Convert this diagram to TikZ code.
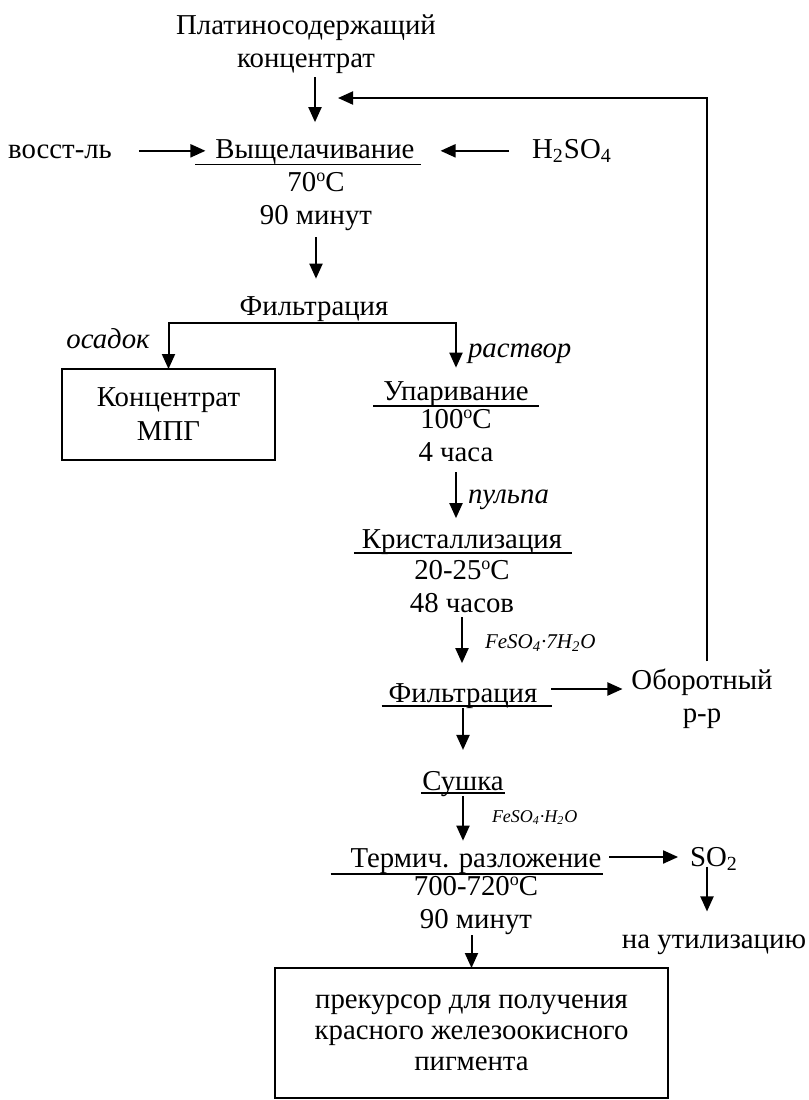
\documentclass[tikz,border=0pt]{standalone}
\usepackage{fontspec}
\setmainfont{Liberation Serif}
\usetikzlibrary{arrows.meta,positioning}
% underline below a stage name: node, left, right, drop
\newcommand{\undl}[4]{\draw[uline] ([shift={(-#2,-#4)}]#1.base west) -- ([shift={(#3,-#4)}]#1.base east);}
\newcommand{\degr}{\raisebox{0.7ex}{\fontsize{9pt}{9pt}\selectfont o}}

\begin{document}
\begin{tikzpicture}[x=0.5pt,y=-0.5pt,
    font=\fontsize{14.4pt}{16.5pt}\selectfont,
    every node/.style={inner sep=0pt,outer sep=0pt,align=center},
    arr/.style={-{Triangle[length=7.5pt,width=6.5pt]},line width=1pt},
    uline/.style={line width=0.9pt},
    lbl/.style={font=\fontsize{14.4pt}{16.5pt}\selectfont\itshape},
    frm/.style={font=\fontsize{10.5pt}{12pt}\selectfont\itshape},
    box/.style={draw,line width=1pt}]
  \useasboundingbox (0,0) rectangle (809,1100);
  % stages (multi-line nodes sit on their last line)
  \node[anchor=base] (src) at (306,67) {Платиносодержащий\\концентрат};
  \node[anchor=base] (reag) at (60,158) {восст-ль};
  \node[anchor=base] (leach) at (315,158) {Выщелачивание};
  \node[anchor=base] (acid) at (572,158) {H\textsubscript{2}SO\textsubscript{4}};
  \node[anchor=base] (c1) at (316,224) {70\degr C\\90 минут};
  \node[anchor=base] (filt) at (314,315) {Фильтрация};
  \node[lbl,anchor=base] (sed) at (108,348) {осадок};
  \node[lbl,anchor=base west] (sol) at (468,357) {раствор};
  \node[box,minimum width=106.5pt,minimum height=45.5pt,
    font=\fontsize{14.4pt}{17pt}\selectfont] (pgm) at (168.5,414.5) {Концентрат\\МПГ};
  \node[anchor=base] (evap) at (456,400) {Упаривание};
  \node[anchor=base] (c2) at (456,461) {100\degr C\\4 часа};
  \node[lbl,anchor=base west] (pulp) at (468,503) {пульпа};
  \node[anchor=base] (cryst) at (462,548) {Кристаллизация};
  \node[anchor=base] (c3) at (462,612) {20-25\degr C\\48 часов};
  \node[frm,anchor=base west] (hept) at (485,648) {FeSO\textsubscript{4}·7H\textsubscript{2}O};
  \node[anchor=base] (filt2) at (463,702) {Фильтрация};
  \node[anchor=base] (rec) at (702,722) {Оборотный\\р-р};
  \node[anchor=base] (dry) at (463,790) {Сушка};
  \node[frm,font=\fontsize{9pt}{11pt}\selectfont\itshape,anchor=base west] (mono) at (492,822) {FeSO\textsubscript{4}·H\textsubscript{2}O};
  \node[anchor=base] (term) at (476,867) {Термич. разложение};
  \node[anchor=base] (so2) at (714,866) {SO\textsubscript{2}};
  \node[anchor=base] (c4) at (476,928) {700-720\degr C\\90 минут};
  \node[anchor=base] (util) at (714,948) {на утилизацию};
  \node[box,minimum width=196.5pt,minimum height=65pt,
    font=\fontsize{14.4pt}{15.5pt}\selectfont] (prod) at (471.5,1033)
    {прекурсор для получения\\красного железоокисного\\пигмента};
  % underlines
  \undl{leach}{10pt}{3pt}{3.25pt}
  \undl{evap}{5pt}{5pt}{3pt}
  \undl{cryst}{4pt}{5pt}{2.5pt}
  \undl{filt2}{3.5pt}{7.5pt}{2pt}
  \undl{dry}{0.5pt}{0.5pt}{1.5pt}
  \undl{term}{10pt}{1pt}{3.5pt}
  % main line
  \draw[arr,shorten <=2pt,shorten >=8.5pt] (src.south -| leach.north) -- (leach.north);
  \draw[arr,shorten <=13.5pt,shorten >=5pt] ([yshift=1.3pt]reag.mid east) -- ([yshift=1.3pt]leach.mid west);
  \draw[arr,shorten <=11.5pt,shorten >=13pt] ([yshift=1.3pt]acid.mid west) -- ([yshift=1.3pt]leach.mid east);
  \draw[arr,shorten <=3.5pt,shorten >=8.75pt] (c1.south) -- (c1.south |- filt.north);
  \draw[arr] ([yshift=-1pt]filt.south) -| (pgm.north);
  \draw[arr,shorten >=6.75pt] ([yshift=-1pt]filt.south) -| (evap.north);
  \draw[arr,shorten <=5.5pt,shorten >=5.5pt] (c2.south) -- (c2.south |- cryst.north);
  \draw[arr,shorten <=2.5pt,shorten >=10pt] (c3.south) -- (c3.south |- filt2.north);
  % recycle
  \coordinate (fr) at ([yshift=6.5pt]filt2.base east);
  \draw[arr,shorten <=7pt,shorten >=4.5pt] (fr) -- (fr -| rec.west);
  \coordinate (ret) at (338,98);
  \draw[arr,shorten <=3.5pt] ([xshift=2.5pt]rec.north) |- (ret);
  % drying and calcination
  \draw[arr,shorten >=10.5pt] (filt2.south) -- (dry.north);
  \draw[arr,shorten >=3.75pt] (dry.south) -- (dry.south |- term.north);
  \coordinate (tr) at ([yshift=5pt]term.base east);
  \draw[arr,shorten <=4pt,shorten >=6pt] (tr) -- (tr -| so2.west);
  \draw[arr] ([xshift=-3.5pt,yshift=1.8pt]so2.south) -- ([xshift=-3.5pt,yshift=11.5pt]util.north);
  \draw[arr,shorten <=0.5pt] (c4.south -| prod.north) -- (prod.north);
\end{tikzpicture}
\end{document}
